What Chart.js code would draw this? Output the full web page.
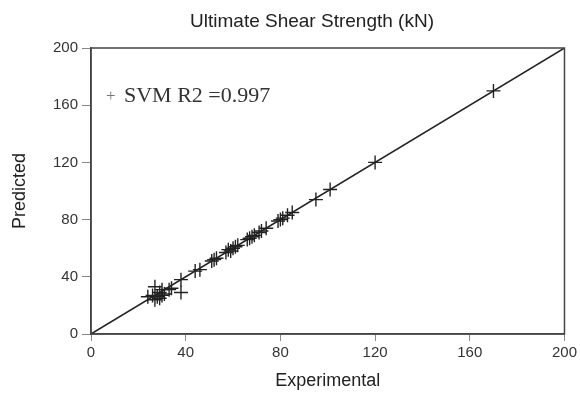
<!DOCTYPE html>
<html>
<head>
<meta charset="utf-8">
<script src="https://cdn.jsdelivr.net/npm/chart.js@4/dist/chart.umd.min.js"></script>
<style>
  body { margin: 0; background: #fff; }
  #wrap { width: 580px; height: 395px; }
</style>
</head>
<body>
<div id="wrap"><canvas id="myChart" width="580" height="395"></canvas></div>
<script>
// experimental vs predicted shear strength (kN)
const experimental = [24, 26, 27, 27, 28, 29, 29, 30, 30, 31, 33, 34, 38, 38,
  44, 46, 51, 52, 53, 57, 58, 59, 60, 61, 62, 66, 67, 68, 69, 71, 72, 74,
  79, 80, 81, 83, 85, 95, 101, 120, 170];
const predicted = [26, 27, 33, 24, 26, 29, 25, 27, 31, 28, 31, 32, 38, 29,
  44, 45, 51, 52, 53, 57, 59, 58, 60, 61, 62, 66, 67, 68, 69, 71, 72, 74,
  79, 80, 81, 83, 85, 94, 101, 120, 170];
const lineX = [0, 200];
const tickValues = [0, 40, 80, 120, 160, 200];
const chartTitle = 'Ultimate Shear Strength (kN)';
const legendText = 'SVM R2 =0.997';

const points = experimental.map((x, i) => ({x: x, y: predicted[i]}));
const diag = lineX.map(v => ({x: v, y: v}));

//frame round the plot, title and legend text
const framePlugin = {
  id: 'frame',
  afterDraw(chart) {
    const a = chart.chartArea, ctx = chart.ctx;
    ctx.save();
    ctx.strokeStyle = '#444';
    ctx.lineWidth = 1.5;
    ctx.strokeRect(a.left, a.top, a.right - a.left, a.bottom - a.top);
    // title
    ctx.fillStyle = '#222';
    ctx.font = '19px "Liberation Sans", Arial, sans-serif';
    ctx.textAlign = 'center';
    ctx.textBaseline = 'middle';
    ctx.fillText(chartTitle, 312, 22);
    // legend
    ctx.textAlign = 'left';
    ctx.textBaseline = 'alphabetic';
    ctx.fillStyle = '#777';
    ctx.font = '17px "Liberation Serif", serif';
    ctx.fillText('+', a.left + 15, 101);
    ctx.fillStyle = '#333';
    ctx.font = '22px "Liberation Serif", serif';
    ctx.fillText(legendText, a.left + 33, 102);
    ctx.restore();
  }
};

const tickFont = {family: '"Liberation Sans", Arial, sans-serif', size: 15};
const titleFont = {family: '"Liberation Sans", Arial, sans-serif', size: 18};

new Chart('myChart', {
  type: 'scatter',
  data: {
    datasets: [
      {
        type: 'line',
        data: diag,
        borderColor: '#222',
        borderWidth: 1.5,
        pointRadius: 0,
        fill: false
      },
      {
        data: points,
        pointStyle: 'cross',
        pointRadius: 7,
        pointBorderWidth: 1.4,
        borderColor: '#222',
        backgroundColor: '#222'
      }
    ]
  },
  options: {
    responsive: false,
    animation: false,
    layout: {padding: {left: 0, right: 15, top: 48, bottom: 0}},
    plugins: {
      legend: {display: false},
      tooltip: {enabled: false},
      title: {display: false}
    },
    scales: {
      x: {
        type: 'linear',
        min: 0, max: 200,
        afterBuildTicks: s => { s.ticks = tickValues.map(v => ({value: v})); },
        afterFit: s => { s.height = 61; },
        ticks: {color: '#333', font: tickFont, padding: 3, maxRotation: 0},
        grid: {drawOnChartArea: false, drawTicks: true, tickLength: 7, color: '#888'},
        border: {display: true, color: '#444', width: 1.5},
        title: {display: true, text: 'Experimental', color: '#222', font: titleFont, padding: {top: 4, bottom: 3}}
      },
      y: {
        type: 'linear',
        min: 0, max: 200,
        afterBuildTicks: s => { s.ticks = tickValues.map(v => ({value: v})); },
        afterFit: s => { s.width = 91; },
        ticks: {color: '#333', font: tickFont, padding: 4},
        grid: {drawOnChartArea: false, drawTicks: true, tickLength: 9, color: '#888'},
        border: {display: true, color: '#444', width: 1.5},
        title: {display: true, text: 'Predicted', color: '#222', font: titleFont, padding: {top: 9, bottom: 4}}
      }
    }
  },
  plugins: [framePlugin]
});
</script>
</body>
</html>
